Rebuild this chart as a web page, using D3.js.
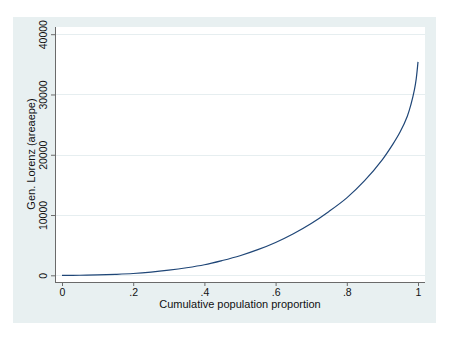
<!DOCTYPE html>
<html>
<head>
<meta charset="utf-8">
<script src="https://cdn.jsdelivr.net/npm/d3@7/dist/d3.min.js"></script>
<style>
  html, body { margin: 0; padding: 0; background: #ffffff; }
  svg { display: block; }
  text { font-family: "Liberation Sans", Arial, sans-serif; fill: #111; }
</style>
</head>
<body>
<svg id="chart" width="450" height="338"></svg>
<script>
// Data (generalized Lorenz curve)
const popShare = [0, 0.05, 0.1, 0.15, 0.2, 0.25, 0.3, 0.35, 0.4, 0.45, 0.5, 0.55, 0.6, 0.65, 0.7, 0.75, 0.8, 0.85, 0.9, 0.93, 0.95, 0.97, 0.98, 0.99, 0.995, 1];
const genLorenz = [0, 10, 60, 160, 300, 530, 850, 1250, 1750, 2450, 3250, 4250, 5450, 6900, 8600, 10600, 12850, 15700, 19200, 21800, 23800, 26400, 28300, 30800, 32600, 35400];
const xTicks = [0, 0.2, 0.4, 0.6, 0.8, 1];
const xTickLabels = ["0", ".2", ".4", ".6", ".8", "1"];
const yTicks = [0, 10000, 20000, 30000, 40000];
const yTickLabels = ["0", "10000", "20000", "30000", "40000"];
const xTitle = "Cumulative population proportion";
const yTitle = "Gen. Lorenz (areaepe)";

const svg = d3.select("#chart");
const bg = "#e8f0f1";

// outer graph region
svg.append("rect").attr("x", 13).attr("y", 17).attr("width", 423).attr("height", 306).attr("fill", bg);
// plot region
const plot = { left: 55, top: 27, right: 425, bottom: 282 };
svg.append("rect").attr("x", plot.left).attr("y", plot.top)
  .attr("width", plot.right - plot.left).attr("height", plot.bottom - plot.top).attr("fill", "#ffffff");

const x = d3.scaleLinear().domain([0, 1]).range([62, 418]);
const y = d3.scaleLinear().domain([0, 40000]).range([275.3, 34.2]);

// gridlines
svg.append("g").selectAll("line").data(yTicks).join("line")
  .attr("x1", plot.left).attr("x2", plot.right)
  .attr("y1", d => Math.round(y(d)) + 0.5).attr("y2", d => Math.round(y(d)) + 0.5)
  .attr("stroke", "#e6eef0").attr("stroke-width", 1);

// y axis
const yAxis = d3.axisLeft(y).tickValues(yTicks).tickFormat((d, i) => yTickLabels[i]).tickSize(4).tickPadding(5);
const gy = svg.append("g").attr("transform", `translate(${plot.left},0)`).call(yAxis);
gy.select(".domain").attr("d", `M0.5,${plot.top}V${plot.bottom}`).attr("stroke", "#6a6a6a");
gy.selectAll(".tick line").attr("stroke", "#6a6a6a");
gy.selectAll(".tick text")
  .attr("font-size", 10.5).attr("fill", "#111")
  .attr("font-family", "'Liberation Sans', Arial, sans-serif")
  .attr("text-anchor", "middle").attr("dy", null)
  .attr("transform", "rotate(-90)")
  .attr("x", 0).attr("y", -8);

// x axis
const xAxis = d3.axisBottom(x).tickValues(xTicks).tickFormat((d, i) => xTickLabels[i]).tickSize(4).tickPadding(3);
const gx = svg.append("g").attr("transform", `translate(0,${plot.bottom})`).call(xAxis);
gx.select(".domain").attr("d", `M${plot.left},0.5H${plot.right}`).attr("stroke", "#6a6a6a");
gx.selectAll(".tick line").attr("stroke", "#6a6a6a");
gx.selectAll(".tick text").attr("font-size", 10.5).attr("fill", "#111")
  .attr("font-family", "'Liberation Sans', Arial, sans-serif");

// titles
svg.append("text").attr("x", 240).attr("y", 308).attr("text-anchor", "middle")
  .attr("font-size", 11).text(xTitle);
svg.append("text").attr("transform", "translate(35,154) rotate(-90)").attr("text-anchor", "middle")
  .attr("font-size", 11).text(yTitle);

// curve
const data = popShare.map((p, i) => [p, genLorenz[i]]);
const line = d3.line().x(d => x(d[0])).y(d => y(d[1])).curve(d3.curveCatmullRom.alpha(0.5));
svg.append("path").datum(data).attr("d", line)
  .attr("fill", "none").attr("stroke", "#1f4677").attr("stroke-width", 1.2);
</script>
</body>
</html>
